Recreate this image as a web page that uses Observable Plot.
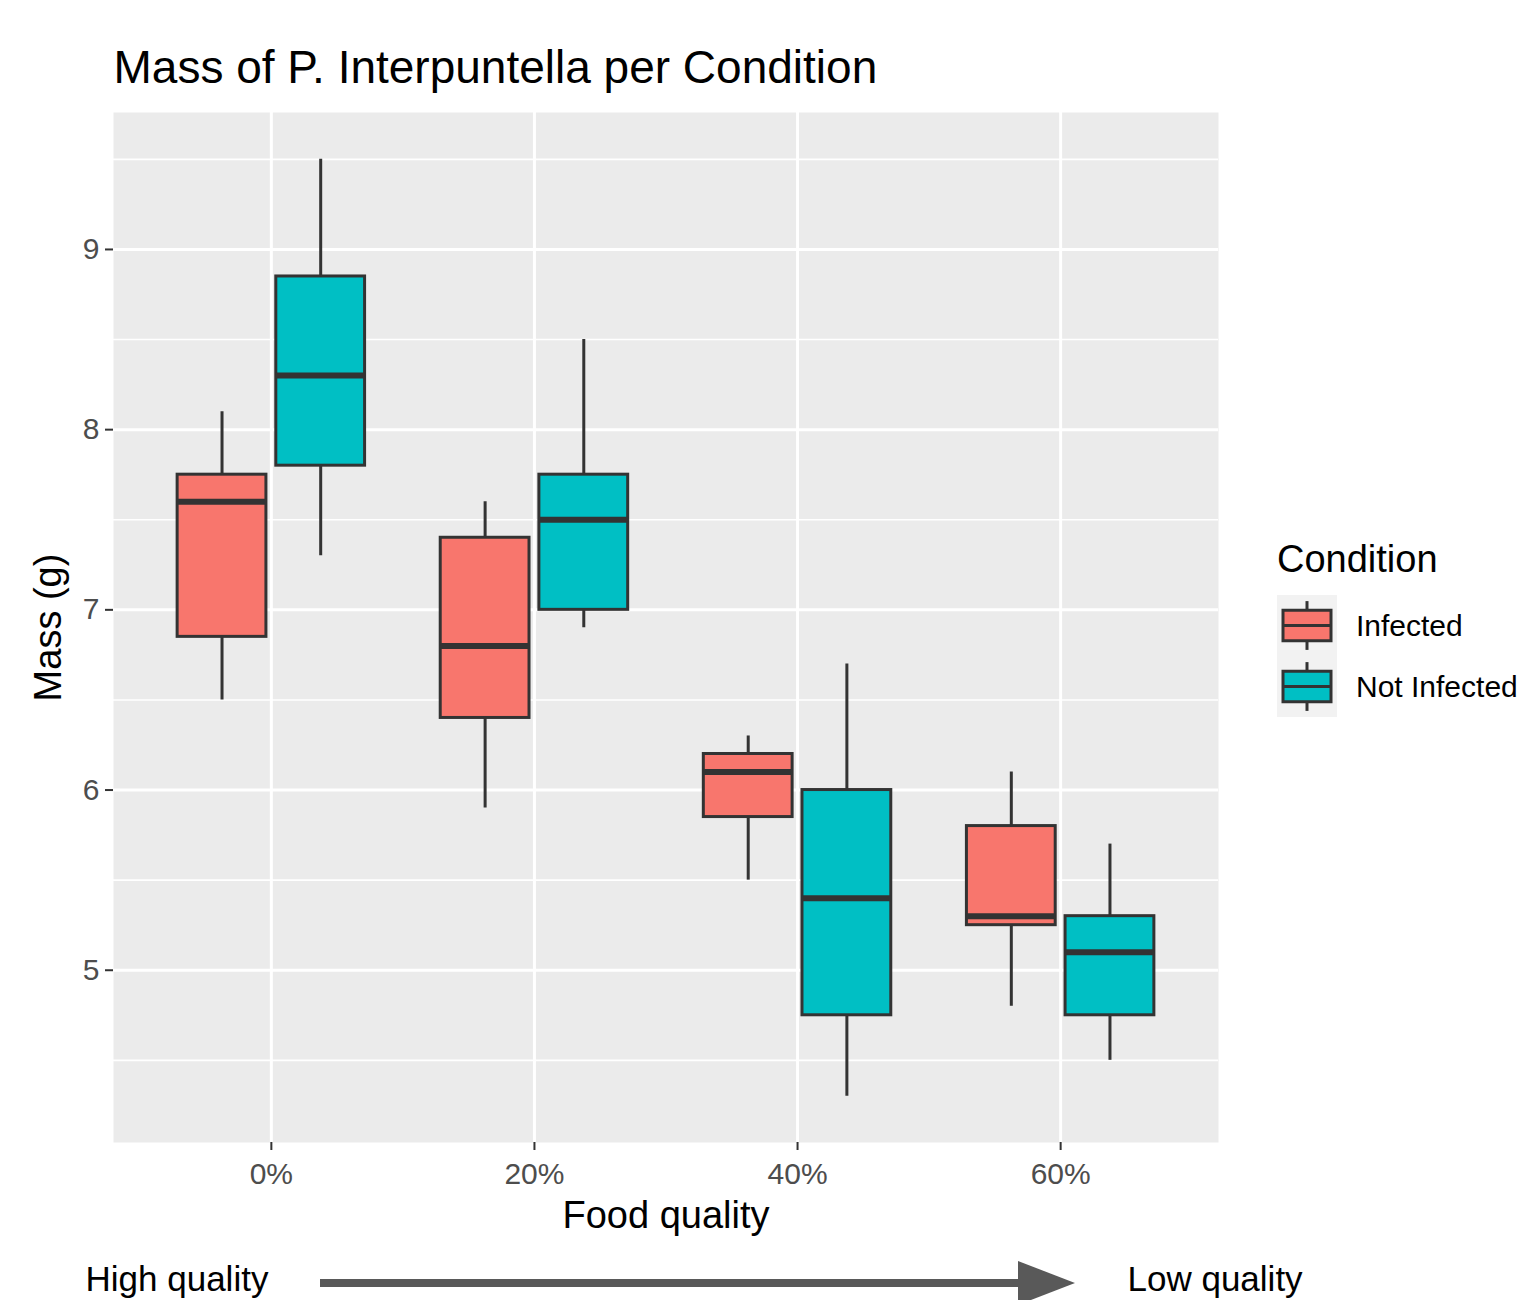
<!DOCTYPE html>
<html>
<head>
<meta charset="utf-8">
<script src="https://cdn.jsdelivr.net/npm/d3@7"></script>
<script src="https://cdn.jsdelivr.net/npm/@observablehq/plot@0.6"></script>
<style>
  html, body { margin: 0; padding: 0; background: white; }
  #chart { position: relative; width: 1518px; height: 1300px; overflow: hidden; }
</style>
</head>
<body>
<div id="chart"></div>
<script>
// ---- data ----
const quality = ["0%", "20%", "40%", "60%"];
const conditions = ["Infected", "Not Infected"];
const colors = ["#F8766D", "#00BFC4"];

const infectedLow    = [6.5, 5.9, 5.5, 4.8];
const infectedQ1     = [6.85, 6.4, 5.85, 5.25];
const infectedMedian = [7.6, 6.8, 6.1, 5.3];
const infectedQ3     = [7.75, 7.4, 6.2, 5.8];
const infectedHigh   = [8.1, 7.6, 6.3, 6.1];

const notInfectedLow    = [7.3, 6.9, 4.3, 4.5];
const notInfectedQ1     = [7.8, 7.0, 4.75, 4.75];
const notInfectedMedian = [8.3, 7.5, 5.4, 5.1];
const notInfectedQ3     = [8.85, 7.75, 6.0, 5.3];
const notInfectedHigh   = [9.5, 8.5, 6.7, 5.7];

const yTicks = [5, 6, 7, 8, 9];
const yMinor = [4.5, 5.5, 6.5, 7.5, 8.5, 9.5];

// ---- table built from the arrays ----
const dodge = 0.1875, half = 0.16875;
const stats = [
  [infectedLow, infectedQ1, infectedMedian, infectedQ3, infectedHigh],
  [notInfectedLow, notInfectedQ1, notInfectedMedian, notInfectedQ3, notInfectedHigh]
];
const rows = [];
quality.forEach((q, i) => {
  conditions.forEach((c, j) => {
    const s = stats[j];
    const cx = i + (j === 0 ? -dodge : dodge);
    rows.push({quality: q, condition: c, cx, x1: cx - half, x2: cx + half,
      low: s[0][i], q1: s[1][i], median: s[2][i], q3: s[3][i], high: s[4][i]});
  });
});

const font = "'Liberation Sans', Arial, Helvetica, sans-serif";
const dark = "#333333";

const svg = Plot.plot({
  width: 1518,
  height: 1300,
  marginLeft: 113,
  marginRight: 300,
  marginTop: 112,
  marginBottom: 158,
  style: {fontFamily: font, background: "white", overflow: "visible"},
  x: {domain: [-0.6, 3.6], axis: null},
  y: {domain: [4.044, 9.76], axis: null},
  color: {domain: conditions, range: colors},
  marks: [
    Plot.frame({fill: "#EBEBEB", stroke: null}),
    Plot.gridY(yMinor, {stroke: "white", strokeOpacity: 1, strokeWidth: 1.6}),
    Plot.gridY(yTicks, {stroke: "white", strokeOpacity: 1, strokeWidth: 3}),
    Plot.gridX([0, 1, 2, 3], {stroke: "white", strokeOpacity: 1, strokeWidth: 3}),
    Plot.axisY(yTicks, {tickSize: 8, tickPadding: 6, fontSize: 30, fill: "#4D4D4D", stroke: dark, strokeWidth: 2, label: null,
      tickFormat: d => String(d)}),
    Plot.axisX([0, 1, 2, 3], {tickSize: 8, tickPadding: 12, fontSize: 30, fill: "#4D4D4D", stroke: dark, strokeWidth: 2, label: null,
      tickFormat: i => quality[i]}),
    // whiskers
    Plot.ruleX(rows, {x: "cx", y1: "low", y2: "high", stroke: dark, strokeWidth: 3}),
    // boxes
    Plot.rect(rows, {x1: "x1", x2: "x2", y1: "q1", y2: "q3", fill: "condition", stroke: dark, strokeWidth: 3}),
    // medians
    Plot.ruleY(rows, {x1: "x1", x2: "x2", y: "median", stroke: dark, strokeWidth: 6}),
    // titles
    Plot.text(["Mass of P. Interpuntella per Condition"], {frameAnchor: "top-left", dy: -44, textAnchor: "start", lineAnchor: "middle", fontSize: 46, fill: "black"}),
    Plot.text(["Mass (g)"], {frameAnchor: "left", dx: -65, rotate: -90, textAnchor: "middle", lineAnchor: "middle", fontSize: 38, fill: "black"}),
    Plot.text(["Food quality"], {frameAnchor: "bottom", dy: 73, textAnchor: "middle", lineAnchor: "middle", fontSize: 38, fill: "black"}),
    Plot.text(["High quality"], {frameAnchor: "bottom-left", dx: -28, dy: 137, textAnchor: "start", lineAnchor: "middle", fontSize: 35, fill: "black"}),
    Plot.text(["Low quality"], {frameAnchor: "bottom-left", dx: 1014, dy: 137, textAnchor: "start", lineAnchor: "middle", fontSize: 35, fill: "black"})
  ]
});

// ---- legend and arrow annotation ----
const s = d3.select(svg);
const lg = s.append("g").attr("font-family", font).attr("text-anchor", "start");
lg.append("text").attr("x", 1277).attr("y", 572).attr("font-size", 38).attr("fill", "black").text("Condition");
const keyH = 61, keyX = 1277, keyY = 595, keyW = 60;
conditions.forEach((c, j) => {
  const y0 = keyY + j * keyH;
  lg.append("rect").attr("x", keyX).attr("y", y0).attr("width", keyW).attr("height", keyH).attr("fill", "#F2F2F2");
  const cx = keyX + keyW / 2;
  lg.append("line").attr("x1", cx).attr("x2", cx).attr("y1", y0 + keyH * 0.1).attr("y2", y0 + keyH * 0.9)
    .attr("stroke", dark).attr("stroke-width", 3);
  lg.append("rect").attr("x", keyX + keyW * 0.1).attr("y", y0 + keyH * 0.25)
    .attr("width", keyW * 0.8).attr("height", keyH * 0.5)
    .attr("fill", colors[j]).attr("stroke", dark).attr("stroke-width", 3);
  lg.append("line").attr("x1", keyX + keyW * 0.1).attr("x2", keyX + keyW * 0.9)
    .attr("y1", y0 + keyH / 2).attr("y2", y0 + keyH / 2).attr("stroke", dark).attr("stroke-width", 3);
  lg.append("text").attr("x", 1356).attr("y", y0 + keyH / 2).attr("dy", "0.35em")
    .attr("font-size", 30).attr("fill", "black").text(c);
});

const ar = s.append("g");
ar.append("line").attr("x1", 320).attr("x2", 1022).attr("y1", 1283).attr("y2", 1283)
  .attr("stroke", "#595959").attr("stroke-width", 8);
ar.append("path").attr("d", "M1018,1261 L1075,1283 L1018,1305 Z").attr("fill", "#595959");

document.getElementById("chart").appendChild(svg);
</script>
</body>
</html>
